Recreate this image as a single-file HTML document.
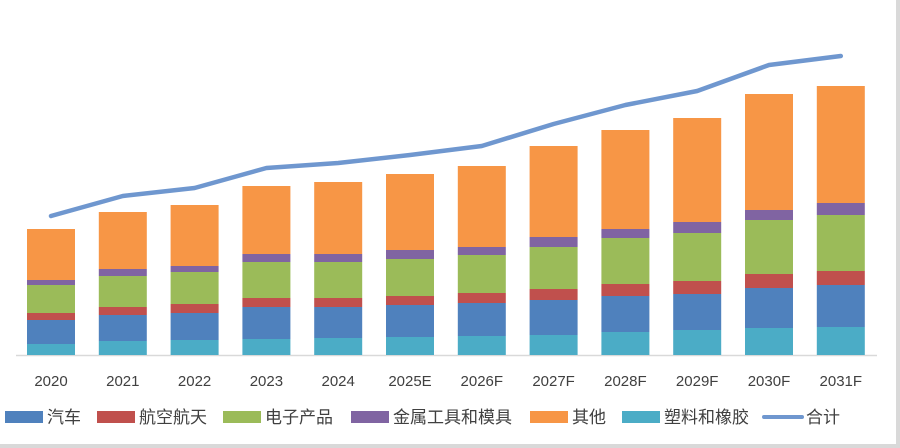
<!DOCTYPE html>
<html><head><meta charset="utf-8"><style>
body{margin:0;background:#fff;}
svg{display:block;font-family:"Liberation Sans","Noto Sans CJK SC",sans-serif;}
</style></head><body>
<svg id="chart" width="900" height="448">
<rect x="0" y="0" width="900" height="448" fill="#fff"/>
<rect x="896" y="0" width="4" height="448" fill="#d9d9d9"/>
<rect x="0" y="444" width="900" height="4" fill="#d9d9d9"/>
<line x1="16" y1="355.5" x2="877" y2="355.5" stroke="#d9d9d9" stroke-width="1.5"/>
<g id="bars"></g><g id="line"></g><g id="xlabels"></g><g id="legend"></g>
</svg>
<script>
const categories=["2020","2021","2022","2023","2024","2025E","2026F","2027F","2028F","2029F","2030F","2031F"];
const plastics=[11,14,15,16,17,18,19,20,23,25,27,28];
const auto=[24,26,27,32,31,32,33,35,36,36,40,42];
const aerospace=[7,8,9,9,9,9,10,11,12,13,14,14];
const electronics=[28,31,32,36,36,37,38,42,46,48,54,56];
const metalTools=[5,7,6,8,8,9,8,10,9,11,10,12];
const others=[51,57,61,68,72,76,81,91,99,104,116,117];
const total=[139,159,167,187,192,200,209,231,250,264,290,299];
const seriesNames=["塑料和橡胶","汽车","航空航天","电子产品","金属工具和模具","其他"];
const seriesData=[plastics,auto,aerospace,electronics,metalTools,others];
const seriesColors=["#4bacc6","#4f81bd","#c0504d","#9bbb59","#8064a2","#f79646"];
const NS="http://www.w3.org/2000/svg";
const base=355, x0=51, step=71.8, bw=48;
function xPos(i){return x0+i*step;}
function yScale(v){return v*1.0;}
function mk(tag,attrs,parent){const e=document.createElementNS(NS,tag);for(const k in attrs)e.setAttribute(k,attrs[k]);parent.appendChild(e);return e;}
const gb=document.getElementById('bars');
categories.forEach((c,i)=>{
  let acc=0;
  seriesData.forEach((s,j)=>{
    const h=yScale(s[i]);
    const r=mk('rect',{x:xPos(i)-bw/2,y:base-yScale(acc)-h,width:bw,height:h,fill:seriesColors[j]},gb);
    
    
    acc+=s[i];
  });
});
const pts=total.map((v,i)=>xPos(i)+','+(base-yScale(v))).join(' ');
const pl=mk('polyline',{points:pts,fill:'none',stroke:'#6f97cf','stroke-width':4.5,'stroke-linejoin':'round','stroke-linecap':'round'},document.getElementById('line'));


const gx=document.getElementById('xlabels');
categories.forEach((c,i)=>{
  const t=mk('text',{x:xPos(i),y:386,'text-anchor':'middle','font-size':15,fill:'#404040'},gx);
  t.textContent=c;
  
  
});
const legendItems=[["汽车","#4f81bd",5],["航空航天","#c0504d",97],["电子产品","#9bbb59",223],["金属工具和模具","#8064a2",351],["其他","#f79646",530],["塑料和橡胶","#4bacc6",622]];
const gl=document.getElementById('legend');
legendItems.forEach(it=>{
  const r=mk('rect',{x:it[2],y:411,width:38,height:12,fill:it[1]},gl);
  
  
  const t=mk('text',{x:it[2]+42,y:423,'font-size':17,fill:'#404040'},gl);
  t.textContent=it[0];
  
  
});
const ll=mk('line',{x1:764,y1:417,x2:802,y2:417,stroke:'#6f97cf','stroke-width':4,'stroke-linecap':'round'},gl);


const lt=mk('text',{x:806,y:423,'font-size':17,fill:'#404040'},gl);
lt.textContent="合计";


</script>
</body></html>
